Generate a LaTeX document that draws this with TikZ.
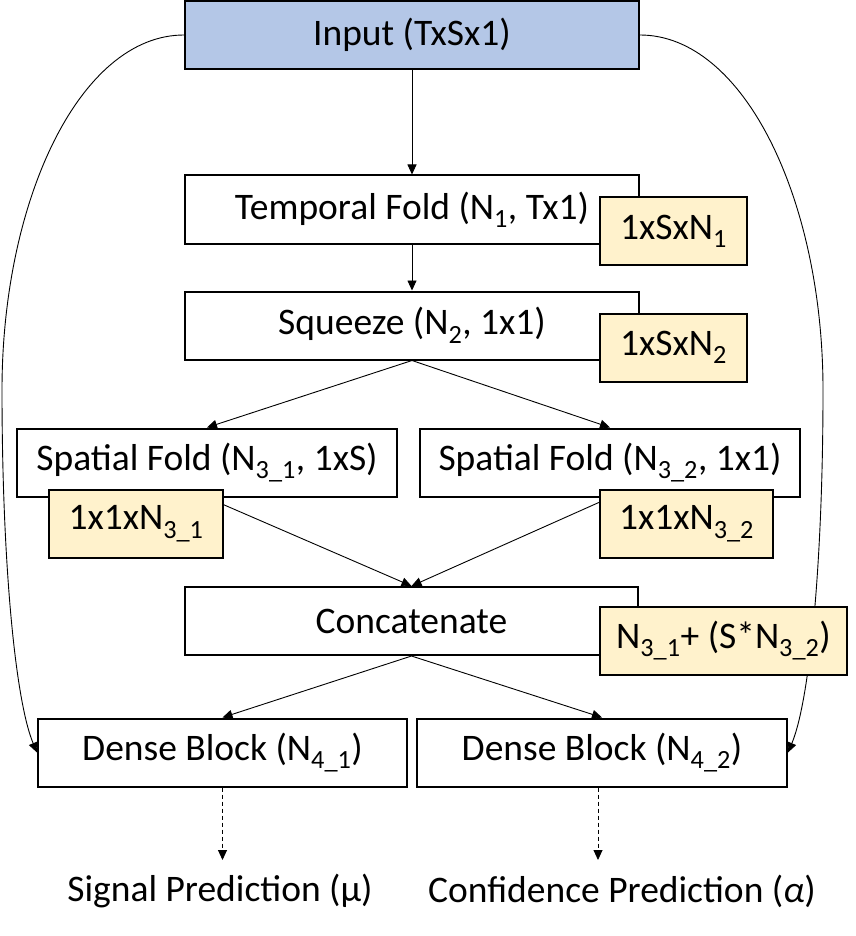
\documentclass[tikz,border=0pt]{standalone}
\usepackage{fontspec}
\setmainfont{Carlito}
\usetikzlibrary{arrows.meta}
\definecolor{inblue}{HTML}{B4C7E7}
\definecolor{dimyellow}{HTML}{FFF2CC}

\begin{document}
\begin{tikzpicture}[x=1pt,y=-1pt,>={Triangle[length=10pt,width=9pt]},font=\fontsize{37.5}{44}\selectfont,
  layerbox/.style={draw,line width=2pt,fill=white,inner sep=0pt,minimum height=68pt},
  dimbox/.style={draw,line width=2pt,fill=dimyellow,inner sep=0pt,minimum height=68pt},
  link/.style={->,line width=0.9pt}]
\useasboundingbox (0,0) rectangle (855,936);
\node[layerbox,fill=inblue,minimum width=454pt] (input) at (412,35) {Input (TxSx1)};
\node[layerbox,minimum width=454pt] (temporal) at (412,209.5) {Temporal Fold (N\textsubscript{1}, Tx1)};
\node[layerbox,minimum width=454pt] (squeeze) at (412,325.5) {Squeeze (N\textsubscript{2}, 1x1)};
\node[layerbox,minimum width=380pt] (spatialL) at (207,462.5) {Spatial Fold (N\textsubscript{3\_1}, 1xS)};
\node[layerbox,minimum width=380pt] (spatialR) at (610,462.5) {Spatial Fold (N\textsubscript{3\_2}, 1x1)};
\node[layerbox,minimum width=453pt] (concat) at (411.5,621) {Concatenate};
\node[layerbox,minimum width=369pt] (denseL) at (222.5,752.5) {Dense Block (N\textsubscript{4\_1})};
\node[layerbox,minimum width=370pt] (denseR) at (602,752.5) {Dense Block (N\textsubscript{4\_2})};
\node (sigpred) at (220,891) {Signal Prediction (µ)};
\node (confpred) at (622,891) {Confidence Prediction (\textit{α})};
\coordinate (sigtip) at (222.5,860);
\coordinate (conftip) at (598,860);
\draw[link] (input) -- (temporal);
\draw[link] (temporal) -- (squeeze);
\draw[link] (squeeze.south) -- (spatialL.north);
\draw[link] (squeeze.south) -- (spatialR.north);
\draw[link] (spatialL.south) -- (concat.north);
\draw[link] (spatialR.south) -- (concat.north);
\draw[link] (concat.south) -- (denseL.north);
\draw[link] (concat.south) -- (denseR.north);
\draw[link] (input.west) .. controls (80,35) and (2,200) .. (2,390) .. controls (2,560) and (15,700) .. (denseL.west);
\draw[link] (input.east) .. controls (744,35) and (823,200) .. (823,390) .. controls (823,560) and (810,700) .. (denseR.east);
\draw[link,dash pattern=on 4pt off 3pt] (denseL.south) -- (sigtip);
\draw[link,dash pattern=on 4pt off 3pt] (denseR.south -| conftip) -- (conftip);
\node[dimbox,minimum width=147pt] (dimT) at (673.5,231) {1xSxN\textsubscript{1}};
\node[dimbox,minimum width=147pt] (dimS) at (673.5,347.5) {1xSxN\textsubscript{2}};
\node[dimbox,minimum width=174pt] (dimL) at (136,523.5) {1x1xN\textsubscript{3\_1}};
\node[dimbox,minimum width=173pt] (dimR) at (686.5,523.5) {1x1xN\textsubscript{3\_2}};
\node[dimbox,minimum width=247pt] (dimC) at (723.5,640.5) {N\textsubscript{3\_1}+ (S*N\textsubscript{3\_2})};
\end{tikzpicture}
\end{document}
